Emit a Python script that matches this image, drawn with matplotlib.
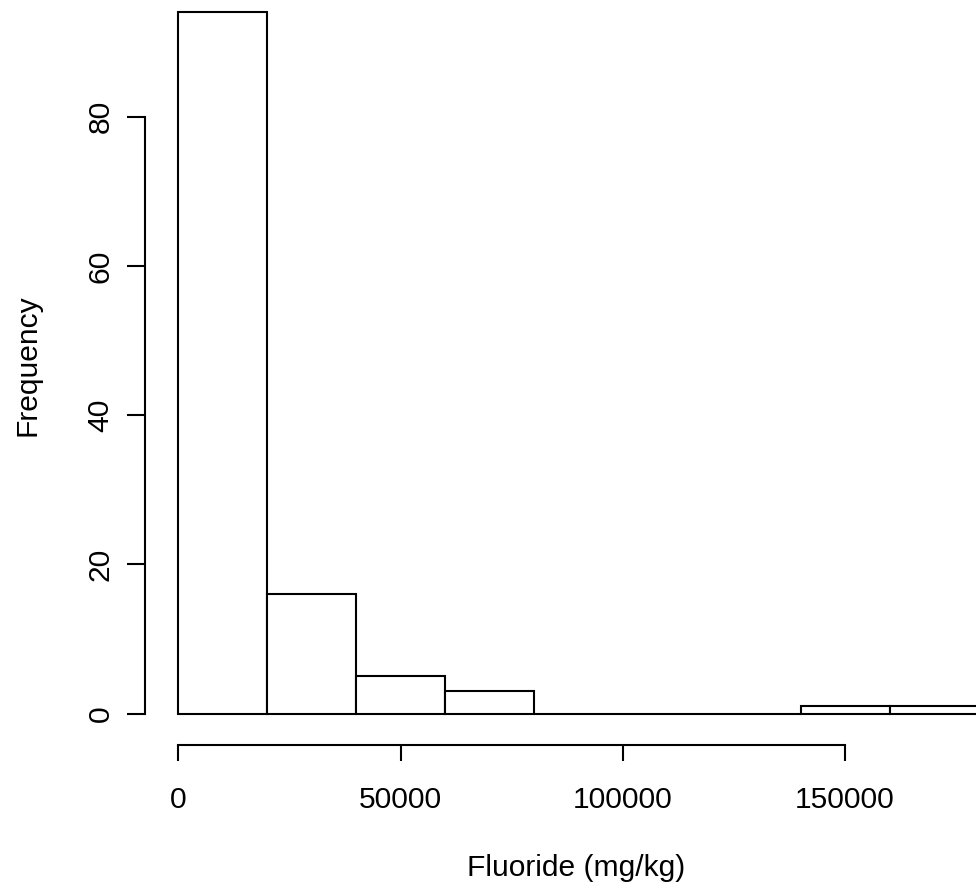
import matplotlib
matplotlib.use("Agg")
import matplotlib.pyplot as plt
import numpy as np

# Data
bin_edges = [0, 20000, 40000, 60000, 80000, 100000, 120000, 140000, 160000, 180000]
counts = [94, 16, 5, 3, 0, 0, 0, 1, 1]
x_ticks = [0, 50000, 100000, 150000]
x_tick_labels = ["0", "50000", "100000", "150000"]
y_ticks = [0, 20, 40, 60, 80]
y_tick_labels = ["0", "20", "40", "60", "80"]
x_label = "Fluoride (mg/kg)"
y_label = "Frequency"

plt.rcParams['font.family'] = ['Liberation Sans', 'DejaVu Sans']

W, H = 976, 893
fig = plt.figure(figsize=(W / 100, H / 100), dpi=100)

# axes placement in pixels (plot region extends beyond the cropped image)
px_left, px_bottom = 145, 745
px_per_x = 4.445 / 1000.0
px_per_y = 7.4625
x0_px, y0_px = 178.3, 713.7
xlim_lo = -(x0_px - px_left) / px_per_x
ylim_lo = -(px_bottom - y0_px) / px_per_y
xlim_hi = 190000
ylim_hi = 100
px_right = x0_px + xlim_hi * px_per_x
px_top = y0_px - ylim_hi * px_per_y

ax = fig.add_axes([px_left / W, 1 - px_bottom / H,
                   (px_right - px_left) / W, (px_bottom - px_top) / H])
ax.set_xlim(xlim_lo, xlim_hi)
ax.set_ylim(ylim_lo, ylim_hi)
ax.patch.set_alpha(0)

lefts = bin_edges[:-1]
widths = np.diff(bin_edges)
ax.bar(lefts, counts, width=widths, align='edge', facecolor='white',
       edgecolor='black', linewidth=1.5, clip_on=False)

for s in ['top', 'right']:
    ax.spines[s].set_visible(False)
ax.spines['left'].set_bounds(y_ticks[0], y_ticks[-1])
ax.spines['bottom'].set_bounds(x_ticks[0], x_ticks[-1])
ax.spines['left'].set_linewidth(1.5)
ax.spines['bottom'].set_linewidth(1.5)

ax.set_xticks(x_ticks)
ax.set_xticklabels(x_tick_labels)
ax.set_yticks(y_ticks)
ax.set_yticklabels(y_tick_labels, rotation=90, va='center')

fs = 21.6
ax.tick_params(axis='x', length=11.5, width=1.5, pad=18.0, labelsize=fs, direction='out')
ax.tick_params(axis='y', length=13.0, width=1.5, pad=9.0, labelsize=fs, direction='out')

ax.set_xlabel(x_label, fontsize=fs, va='center')
ax.xaxis.set_label_coords(576 / W, 1 - 868 / H, transform=fig.transFigure)
ax.set_ylabel(y_label, fontsize=fs, va='center')
ax.yaxis.set_label_coords(28 / W, 1 - 365 / H, transform=fig.transFigure)

fig.savefig("out.png", dpi=100)
